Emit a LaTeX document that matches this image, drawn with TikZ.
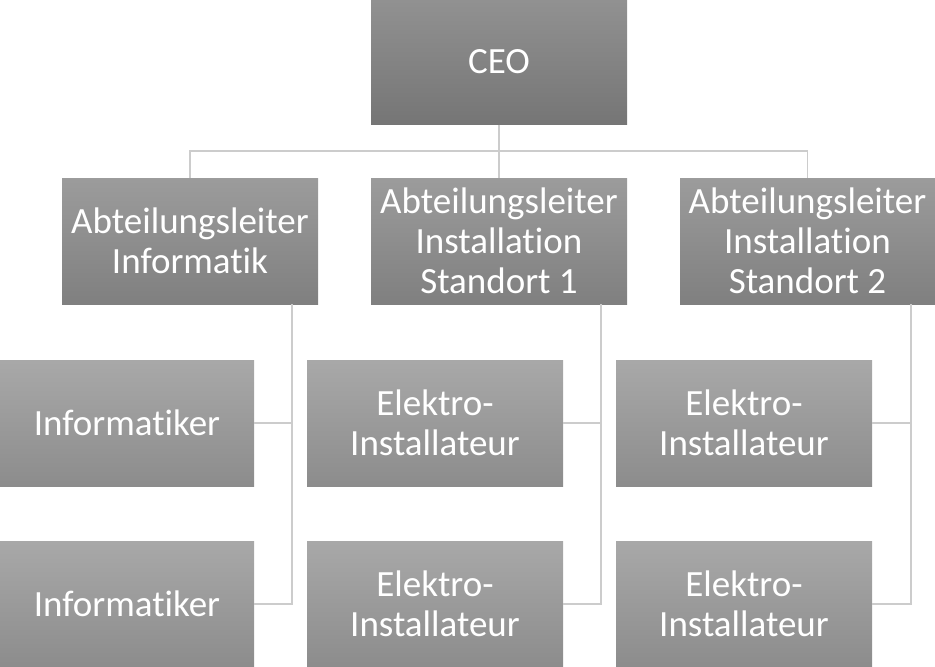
\documentclass[tikz,border=0pt]{standalone}
\usepackage{fontspec}
\setmainfont[Ligatures={NoCommon,NoRare,NoDiscretionary}]{Carlito}
\begin{document}
\begin{tikzpicture}[x=1pt,y=-1pt,
  box/.style={rectangle, minimum width=256pt, minimum height=126pt, inner sep=0pt,
    text=white, align=center, font=\fontsize{37}{40}\selectfont},
  lvlone/.style={box, top color=black!43, bottom color=black!54},
  lvltwo/.style={box, top color=black!39, bottom color=black!50},
  lvlthree/.style={box, top color=black!34, bottom color=black!45},
  conn/.style={draw=black!20, line width=1.3pt}]
\useasboundingbox (0,0) rectangle (935,667);
\node[lvlone] (ceo) at (499,61.5) {CEO};
\node[lvltwo] (a) at (190,241) {Abteilungsleiter\\Informatik};
\node[lvltwo] (b) at (499,241) {Abteilungsleiter\\Installation\\Standort 1};
\node[lvltwo, minimum width=255pt] (c) at (807.5,241) {Abteilungsleiter\\Installation\\Standort 2};
\node[lvlthree, minimum width=254pt] (a1) at (127,423) {Informatiker};
\node[lvlthree, minimum width=254pt] (a2) at (127,604) {Informatiker};
\node[lvlthree] (b1) at (435,423) {Elektro-\\Installateur};
\node[lvlthree] (b2) at (435,604) {Elektro-\\Installateur};
\node[lvlthree] (c1) at (744,423) {Elektro-\\Installateur};
\node[lvlthree] (c2) at (744,604) {Elektro-\\Installateur};
\coordinate (bus) at (499,151);
\draw[conn] (ceo.south) -- (bus);
\draw[conn] (bus) -| (a.north);
\draw[conn] (bus) -- (b.north);
\draw[conn] (bus) -| (c.north);
\coordinate (ta) at (292,304);
\coordinate (tb) at (601,304);
\coordinate (tc) at (911,304);
\draw[conn] (ta) |- (a2.east);
\draw[conn] (ta |- a1.east) -- (a1.east);
\draw[conn] (tb) |- (b2.east);
\draw[conn] (tb |- b1.east) -- (b1.east);
\draw[conn] (tc) |- (c2.east);
\draw[conn] (tc |- c1.east) -- (c1.east);
\end{tikzpicture}
\end{document}
